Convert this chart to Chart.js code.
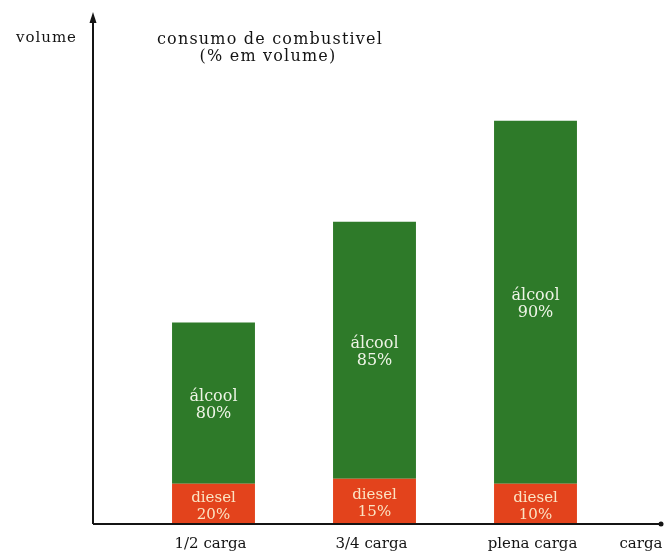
<!DOCTYPE html>
<html>
<head>
<meta charset="utf-8">
<script src="https://cdn.jsdelivr.net/npm/chart.js@4/dist/chart.umd.min.js"></script>
<style>
  html, body { margin: 0; padding: 0; background: #fff; }
  #wrap { width: 666px; height: 553px; }
</style>
</head>
<body>
<div id="wrap"><canvas id="c" width="666" height="553"></canvas></div>
<script>
// Fuel consumption by engine load (relative volume, stacked diesel + alcohol)
const categories = ['1/2 carga', '3/4 carga', 'plena carga'];
const dieselVolume = [0.4, 0.45, 0.4];
const alcoolVolume = [1.6, 2.55, 3.6];
const dieselPct = ['20%', '15%', '10%'];
const alcoolPct = ['80%', '85%', '90%'];
const seriesNames = ['diesel', 'álcool'];

const SERIF = '"DejaVu Serif", "Liberation Serif", serif';
const GREEN = '#2e7a29';
const RED = '#e3431c';
const INK = '#141414';

// axis lines reach beyond the category band on both sides
const AXIS_LEFT_GAP = 40;
const AXIS_RIGHT_EXT = 46;

function setSpacing(ctx, px) {
  if ('letterSpacing' in ctx) ctx.letterSpacing = px + 'px';
}

const annotate = {
  id: 'annotate',
  afterDatasetsDraw(chart) {
    const { ctx, chartArea: a } = chart;
    const x0 = a.left - AXIS_LEFT_GAP;
    const x1 = a.right + AXIS_RIGHT_EXT;
    ctx.save();

    // axes with arrowheads
    ctx.strokeStyle = INK;
    ctx.fillStyle = INK;
    ctx.lineWidth = 2;
    ctx.beginPath();
    ctx.moveTo(x0, a.bottom);
    ctx.lineTo(x0, a.top + 6);
    ctx.moveTo(x0, a.bottom);
    ctx.lineTo(x1 - 2, a.bottom);
    ctx.stroke();
    ctx.beginPath();
    ctx.moveTo(x0, a.top);
    ctx.lineTo(x0 - 3.5, a.top + 11);
    ctx.lineTo(x0 + 3.5, a.top + 11);
    ctx.closePath();
    ctx.fill();
    ctx.beginPath();
    ctx.arc(x1 - 1, a.bottom, 2.5, 0, Math.PI * 2);
    ctx.fill();

    // axis names and heading
    ctx.fillStyle = INK;
    ctx.textBaseline = 'alphabetic';
    ctx.font = '15px ' + SERIF;
    setSpacing(ctx, 1);
    ctx.textAlign = 'right';
    ctx.fillText('volume', 77, 42);
    ctx.textAlign = 'center';
    ctx.font = '16px ' + SERIF;
    setSpacing(ctx, 1.2);
    ctx.fillText('consumo de combustivel', 270, 44);
    ctx.fillText('(% em volume)', 268, 61);
    ctx.font = '15px ' + SERIF;
    setSpacing(ctx, 0);
    ctx.fillText('carga', 641, 548);

    // category labels under the bars
    const xs = chart.scales.x;
    categories.forEach((c, i) => {
      ctx.fillText(c, xs.getPixelForValue(i) - 3, 548);
    });

    // labels inside each bar segment
    const labels = [dieselPct, alcoolPct];
    [0, 1].forEach(ds => {
      const meta = chart.getDatasetMeta(ds);
      meta.data.forEach((bar, i) => {
        const cy = (bar.y + bar.base) / 2;
        ctx.font = (ds === 0 ? '15px ' : '16px ') + SERIF;
        ctx.textAlign = 'center';
        ctx.fillStyle = ds === 0 ? '#fbe4c4' : '#eef4e6';
        ctx.fillText(seriesNames[ds], bar.x, cy - 2);
        ctx.fillText(labels[ds][i], bar.x, cy + 15);
      });
    });
    ctx.restore();
  }
};

new Chart(document.getElementById('c'), {
  type: 'bar',
  data: {
    labels: categories,
    datasets: [
      { label: seriesNames[0], data: dieselVolume, backgroundColor: RED },
      { label: seriesNames[1], data: alcoolVolume, backgroundColor: GREEN }
    ]
  },
  options: {
    responsive: false,
    animation: false,
    events: [],
    layout: { padding: { left: 133, right: 50, top: 12, bottom: 29 } },
    datasets: { bar: { barPercentage: 0.515, categoryPercentage: 1 } },
    scales: {
      x: { stacked: true, display: false },
      y: { stacked: true, min: 0, max: 5.08, display: false }
    },
    plugins: {
      legend: { display: false },
      tooltip: { enabled: false },
      title: { display: false }
    }
  },
  plugins: [annotate]
});
</script>
</body>
</html>
